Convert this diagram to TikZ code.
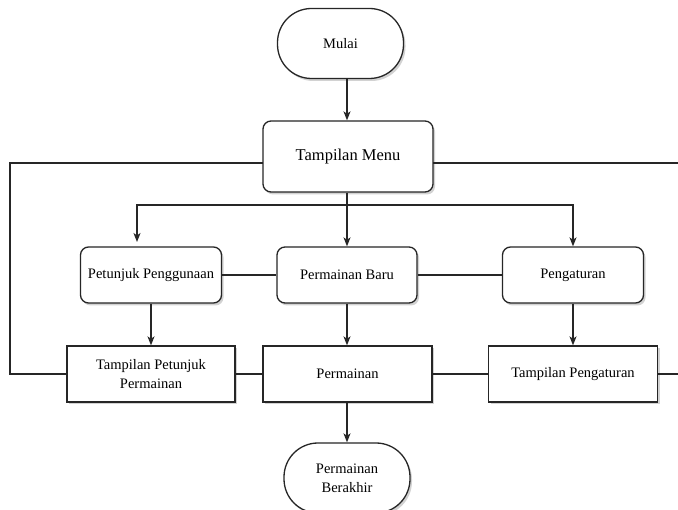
\documentclass[tikz,border=0pt]{standalone}
\usepackage{fontspec}
\setmainfont{Liberation Serif}
\usetikzlibrary{arrows.meta,shadows}
\tikzset{
  base/.style={draw=black!85, line width=1.3pt, fill=white, inner sep=2pt,
    font=\fontsize{14.5}{19}\selectfont, align=center,
    drop shadow={shadow xshift=2pt, shadow yshift=-2.5pt, fill=black!35}},
  term/.style={base, rounded corners=34pt, minimum width=126pt, minimum height=70pt},
  rbox/.style={base, rounded corners=8pt, minimum width=141pt, minimum height=56pt},
  pbox/.style={base, minimum width=169pt, minimum height=56pt},
  conn/.style={draw=black!85, line width=1.4pt},
  arr/.style={conn, -{Stealth[length=9pt,width=7pt,inset=2.5pt]}}
}
\begin{document}
\begin{tikzpicture}[x=1pt,y=1pt]
\useasboundingbox (0,0) rectangle (678,-510);
% nodes
\node[term] (mulai) at (340.5,-43.5) {Mulai};
\node[base, rounded corners=8pt, minimum width=170pt, minimum height=71pt,
      font=\fontsize{16.5}{20}\selectfont] (menu) at (348,-156.5) {Tampilan Menu};
\node[rbox] (pp) at (151,-275) {Petunjuk Penggunaan};
\node[rbox, minimum width=140pt] (baru) at (347,-275) {Permainan Baru};
\node[rbox] (peng) at (573,-275) {Pengaturan};
\node[pbox, minimum width=168pt] (tpp) at (151,-374) {Tampilan Petunjuk\\Permainan};
\node[pbox] (main) at (347.5,-374) {Permainan};
\node[pbox] (tpeng) at (573,-374) {Tampilan Pengaturan};
\node[term] (akhir) at (347,-478) {Permainan\\Berakhir};
% coordinates
\coordinate (split) at (347,-205);
\coordinate (lefttip) at (137,-242);
\coordinate (lmenu) at (263,-163);
\coordinate (rmenu) at (433,-163);
\coordinate (ltop) at (10,-163);
\coordinate (lbot) at (10,-374);
\coordinate (rtop) at (678,-163);
\coordinate (rbot) at (678,-374);
% connectors
\draw[arr] (mulai.south -| split) -- (menu.north -| split);
\draw[conn] (menu.south -| split) -- (split);
\draw[arr] (split) -- (baru.north);
\draw[arr] (split) -| (lefttip);
\draw[arr] (split) -| (peng.north);
\draw[conn] (pp.east) -- (baru.west);
\draw[conn] (baru.east) -- (peng.west);
\draw[arr] (pp.south) -- (tpp.north);
\draw[arr] (baru.south) -- (main.north -| baru);
\draw[arr] (peng.south) -- (tpeng.north);
\draw[conn] (lmenu) -- (ltop) -- (lbot) -- (tpp.west);
\draw[conn] (rmenu) -- (rtop);
\draw[conn] (tpeng.east) -- (rbot);
\draw[conn] (tpp.east) -- (main.west);
\draw[conn] (main.east) -- (tpeng.west);
\draw[arr] (main.south -| akhir) -- (akhir.north);
\end{tikzpicture}
\end{document}
